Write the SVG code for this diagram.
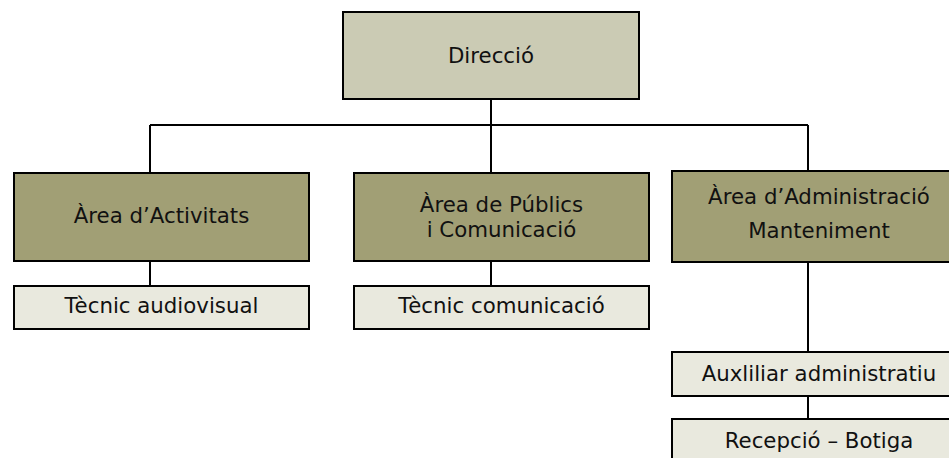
<svg xmlns="http://www.w3.org/2000/svg" width="949" height="458" viewBox="0 0 949 458">
<style>
.box{stroke:#000;stroke-width:2}
.top{fill:#CBCBB4}
.area{fill:#A19F75}
.sub{fill:#E9E9DE}
text{font-family:"DejaVu Sans",Verdana,sans-serif;font-size:21.3px;fill:#111;text-anchor:middle}
.conn{stroke:#000;stroke-width:2;fill:none}
</style>
<rect width="949" height="458" fill="#fff"/>
<g id="connectors">
<path class="conn" d="M491 99V125M150 125H808M150 125V173M491 125V173M808 125V171M150 261V286M491 261V286M808 262V352M808 396V419"/>
</g>
<g id="direccio">
<rect class="box top" x="343" y="12" width="296" height="87"/>
<text x="491" y="63">Direcció</text>
</g>
<g id="area-activitats">
<rect class="box area" x="14" y="173" width="295" height="88"/>
<text x="161.5" y="223">Àrea d’Activitats</text>
</g>
<g id="area-publics">
<rect class="box area" x="354" y="173" width="295" height="88"/>
<text x="501.5" y="212">Àrea de Públics</text>
<text x="501.5" y="237">i Comunicació</text>
</g>
<g id="area-administracio">
<rect class="box area" x="672" y="171" width="295" height="91"/>
<text x="819" y="204">Àrea d’Administració</text>
<text x="819" y="238">Manteniment</text>
</g>
<g id="tecnic-audiovisual">
<rect class="box sub" x="14" y="286" width="295" height="43"/>
<text x="161.5" y="313">Tècnic audiovisual</text>
</g>
<g id="tecnic-comunicacio">
<rect class="box sub" x="354" y="286" width="295" height="43"/>
<text x="501.5" y="313">Tècnic comunicació</text>
</g>
<g id="auxiliar-administratiu">
<rect class="box sub" x="672" y="352" width="295" height="44"/>
<text x="819" y="381">Auxliliar administratiu</text>
</g>
<g id="recepcio-botiga">
<rect class="box sub" x="672" y="419" width="295" height="44"/>
<text x="819" y="448">Recepció – Botiga</text>
</g>
</svg>
